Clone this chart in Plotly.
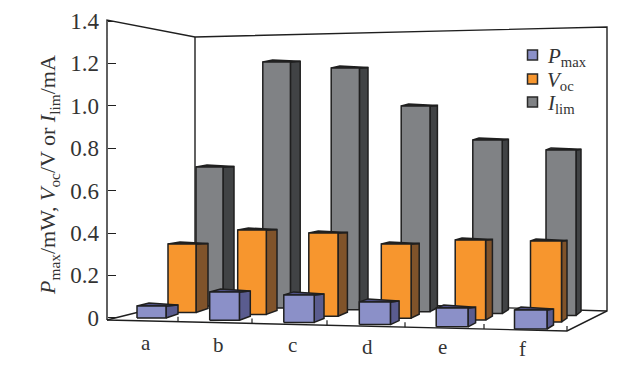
import plotly.graph_objects as go

# ---- data ----
categories = ["a", "b", "c", "d", "e", "f"]
pmax = [0.056, 0.122, 0.108, 0.075, 0.046, 0.037]
voc = [0.348, 0.414, 0.400, 0.348, 0.367, 0.362]
ilim = [0.711, 1.207, 1.178, 0.999, 0.839, 0.792]
y_ticks = [0, 0.2, 0.4, 0.6, 0.8, 1.0, 1.2, 1.4]
y_tick_labels = ["0", "0.2", "0.4", "0.6", "0.8", "1.0", "1.2", "1.4"]

# ---- layout geometry (pixels) ----
W, H = 632, 369
ZERO_PX, UNIT_PX = 317.8, 212.0
FONT = "Liberation Serif"
TXT = "#333333"
LINE = "#1f1f1f"


def v(py):
    return (ZERO_PX - py) / UNIT_PX


rows = [
    dict(name="<i>I</i><sub>lim</sub>", vals=ilim, x0=196, dx=66, c=0.8, w0=27, dw=0.6, b0=306, db=1.9,
         ox0=11, dox=-1.2, rt=2, rb=4, face="#808285", side="#414345", top="#58595b", leg=102),
    dict(name="<i>V</i><sub>oc</sub>", vals=voc, x0=168, dx=69, c=0.7, w0=28, dw=0.6, b0=312.5, db=1.9,
         ox0=12, dox=-1.3, rt=2, rb=4, face="#f7962e", side="#80532a", top="#8a5a2a", leg=79),
    dict(name="<i>P</i><sub>max</sub>", vals=pmax, x0=137, dx=72, c=0.7, w0=29, dw=0.7, b0=318, db=2.2,
         ox0=12, dox=-1.1, rt=3, rb=4, face="#8b90c8", side="#5a5c8f", top="#4f5185", leg=55),
]

fig = go.Figure()

# ---- walls and floor ----
wall_x = [107, 107, 195, 607, 607, 567, 107, None, 107, 195, 607, None, 195, 195]
wall_y = [320, 20, 37, 27, 311, 331, 320, None, 320, 298, 311, None, 37, 298]
fig.add_trace(go.Scatter(x=wall_x, y=[None if p is None else v(p) for p in wall_y], mode="lines",
                         line=dict(color=LINE, width=1.4), showlegend=False, hoverinfo="skip"))
# floor ticks along the front edge
fx, fy = [], []
for px in [178, 252, 327, 405, 484, 567]:
    py = 320 + (px - 107) * 11 / 460
    fx += [px, px, None]
    fy += [v(py), v(py - 5), None]
fig.add_trace(go.Scatter(x=fx, y=fy, mode="lines", line=dict(color=LINE, width=1.2),
                         showlegend=False, hoverinfo="skip"))


def append(poly_x, poly_y, pts):
    for a, b in pts:
        poly_x.append(a)
        poly_y.append(b)
    poly_x.append(None)
    poly_y.append(None)


# ---- bars, back row first ----
for r in rows:
    fxs, fys, sxs, sys_, txs, tys = [], [], [], [], [], []
    for i, val in enumerate(r["vals"]):
        L = r["x0"] + r["dx"] * i + r["c"] * i * i
        R = L + r["w0"] + r["dw"] * i
        base = v(r["b0"] + r["db"] * i)
        ox = r["ox0"] + r["dox"] * i
        rt, rb = r["rt"] / UNIT_PX, r["rb"] / UNIT_PX
        append(fxs, fys, [(L, base), (L, val), (R, val), (R, base), (L, base)])
        append(sxs, sys_, [(R, base), (R, val), (R + ox, val + rt * 0.3), (R + ox, base + rb), (R, base)])
        append(txs, tys, [(L, val), (L + ox, val + rt), (R + ox, val + rt * 0.3), (R, val), (L, val)])
    for xs, ys, col in [(sxs, sys_, r["side"]), (txs, tys, r["top"]), (fxs, fys, r["face"])]:
        fig.add_trace(go.Scatter(x=xs, y=ys, mode="lines", fill="toself", fillcolor=col,
                                 line=dict(color=LINE, width=1.5), showlegend=False, hoverinfo="skip"))

# ---- legend: swatches and labels placed to match the reference spacing ----
for r in reversed(rows):
    fig.add_trace(go.Scatter(x=[532.5], y=[v(r["leg"])], mode="markers", showlegend=False, hoverinfo="skip",
                             marker=dict(symbol="square", size=10, color=r["face"],
                                         line=dict(color="#2a2a2a", width=1.5))))
    fig.add_annotation(x=545, y=v(r["leg"] + 2), text=r["name"], showarrow=False, xanchor="left",
                       font=dict(family=FONT, size=21, color=TXT))

# ---- category labels ----
for i, (cat, px, py) in enumerate(zip(categories, [146, 218, 292, 367, 442, 522],
                                      [343, 345, 345, 347, 347, 349])):
    fig.add_annotation(x=px, y=v(py), text=cat, showarrow=False,
                       font=dict(family=FONT, size=21, color=TXT))

# ---- axis title ----
fig.add_annotation(x=49, y=v(175), textangle=-90, showarrow=False,
                   text="<i>P</i><sub>max</sub>/mW, <i>V</i><sub>oc</sub>/V or <i>I</i><sub>lim</sub>/mA",
                   font=dict(family=FONT, size=22, color=TXT))

fig.update_layout(
    width=W, height=H, margin=dict(l=0, r=0, t=0, b=0),
    paper_bgcolor="white", plot_bgcolor="white", showlegend=False,
    xaxis=dict(range=[0, W], visible=False, fixedrange=True),
    yaxis=dict(range=[v(H), v(0)], anchor="free", position=107 / W, side="left", showgrid=False,
               zeroline=False, showline=False, tickmode="array", tickvals=y_ticks, ticktext=y_tick_labels,
               ticks="inside", ticklen=8, tickwidth=1.2, tickcolor=LINE, ticklabelstandoff=8,
               tickfont=dict(family=FONT, size=23, color=TXT), fixedrange=True),
)

fig.write_html("out.html", config={"displayModeBar": False},
               post_script="document.body.style.margin='0';")
